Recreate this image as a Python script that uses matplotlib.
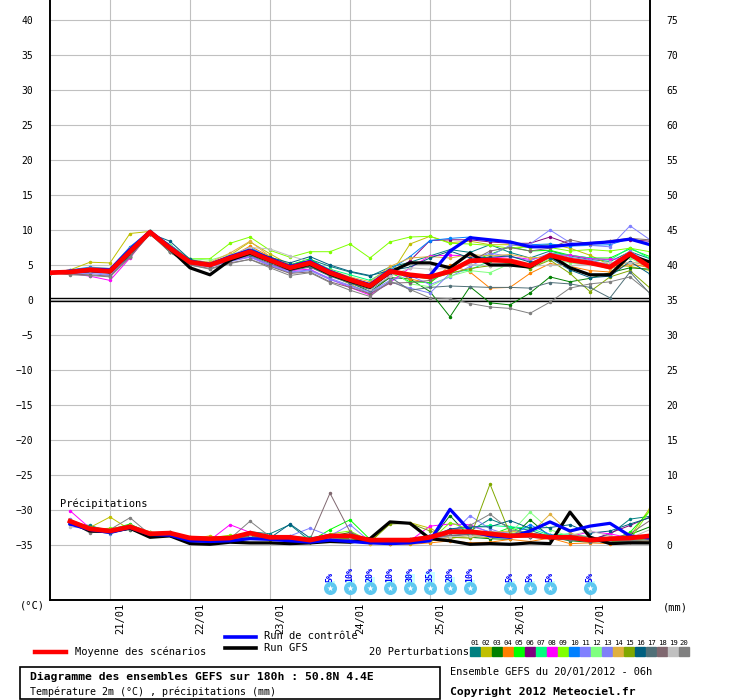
import numpy as np
import matplotlib
matplotlib.use('Agg')
import matplotlib.pyplot as plt
from matplotlib.lines import Line2D
from matplotlib.patches import Rectangle
from matplotlib.transforms import blended_transform_factory

plt.rcParams['font.family'] = ['DejaVu Sans Mono']

# echeances en heures depuis le 20/01/2012 06h
heures = np.arange(0, 181, 6)
heures_pluie = heures[1:]

jours = ['21/01', '22/01', '23/01', '24/01', '25/01', '26/01', '27/01']
jours_h = [18, 42, 66, 90, 114, 138, 162]

# temperature 2m (°C)
temp_moy = [3.9, 4.0, 4.3, 4.1, 6.9, 9.7, 7.4, 5.4, 5.0, 6.0, 6.9, 5.7, 4.6, 5.3, 3.9, 2.9,
            2.0, 4.1, 3.6, 3.3, 4.1, 5.6, 5.7, 5.6, 4.9, 6.4, 5.7, 5.3, 4.7, 6.6, 4.7]
temp_gfs = [3.9, 4.0, 4.2, 4.0, 6.8, 9.7, 7.3, 4.6, 3.6, 5.7, 6.7, 5.6, 4.4, 5.1, 3.7, 2.7,
            1.8, 4.0, 5.3, 5.3, 4.6, 6.7, 5.0, 5.0, 4.7, 6.4, 4.6, 3.6, 3.6, 6.4, 5.4]
temp_ctrl = [3.9, 4.1, 4.4, 4.3, 7.2, 9.8, 7.6, 5.5, 5.1, 6.2, 7.1, 5.9, 4.8, 5.5, 4.1, 3.0,
             2.2, 4.3, 3.4, 3.5, 7.0, 8.9, 8.6, 8.3, 7.6, 7.6, 7.9, 8.1, 8.3, 8.7, 7.9]

t01 = [3.9, 4.2, 4.6, 4.4, 7.5, 9.8, 7.9, 5.8, 5.3, 6.2, 7.2, 6.1, 5.0, 5.8, 4.8, 4.0, 3.4, 4.7, 5.4, 6.3, 7.2, 6.8, 7.9, 6.8, 6.0, 7.0, 6.3, 5.8, 5.5, 6.9, 5.9]
t02 = [3.9, 4.3, 5.4, 5.3, 9.5, 9.8, 7.2, 5.6, 5.2, 6.4, 8.3, 6.6, 5.0, 5.4, 3.6, 2.3, 0.8, 3.5, 8.0, 9.1, 8.2, 8.4, 7.9, 7.9, 7.5, 8.0, 7.4, 6.4, 5.0, 4.8, 4.2]
t03 = [3.9, 3.8, 4.0, 3.9, 6.2, 9.6, 6.8, 5.2, 5.0, 5.8, 6.4, 5.4, 4.3, 4.8, 3.5, 2.5, 1.2, 3.2, 3.0, 1.2, -2.4, 1.9, -0.4, -0.7, 1.0, 3.3, 2.6, 3.1, 3.9, 4.6, 4.4]
t04 = [3.9, 4.1, 4.5, 4.3, 7.2, 9.6, 7.6, 5.6, 5.2, 6.1, 7.7, 6.2, 4.8, 5.6, 4.2, 3.2, 2.3, 4.4, 3.0, 2.4, 5.0, 4.0, 1.7, 1.8, 3.8, 5.2, 4.8, 4.2, 4.0, 5.2, 4.6]
t05 = [3.9, 4.0, 4.4, 4.2, 7.0, 9.5, 7.5, 5.5, 5.1, 6.3, 7.2, 6.0, 5.0, 5.9, 4.1, 3.0, 2.3, 3.9, 2.6, 2.5, 4.5, 5.5, 6.5, 7.6, 7.0, 7.1, 6.4, 6.0, 6.0, 7.3, 6.2]
t06 = [3.9, 4.1, 4.3, 4.0, 6.8, 9.6, 7.2, 5.3, 5.0, 5.9, 6.6, 5.5, 4.5, 5.1, 3.8, 2.8, 1.9, 3.6, 5.6, 8.5, 8.6, 8.6, 8.3, 8.1, 8.1, 9.0, 8.0, 8.2, 8.4, 8.6, 8.4]
t07 = [3.9, 4.0, 4.2, 4.1, 7.1, 9.8, 7.6, 5.6, 5.1, 6.1, 7.0, 5.9, 4.8, 5.6, 4.4, 3.6, 2.8, 4.5, 3.5, 3.3, 3.9, 4.3, 5.6, 5.8, 4.6, 6.7, 6.4, 6.0, 5.7, 7.5, 5.9]
t08 = [3.9, 3.8, 3.4, 2.8, 6.0, 9.6, 7.2, 5.3, 4.8, 5.6, 6.2, 5.0, 4.2, 4.4, 3.0, 1.8, 0.7, 2.5, 4.6, 6.3, 6.4, 6.3, 6.0, 6.2, 5.8, 6.4, 6.4, 5.9, 5.8, 6.0, 5.6]
t09 = [3.9, 4.1, 4.4, 4.3, 7.2, 9.5, 7.6, 5.9, 5.9, 8.1, 9.0, 7.1, 6.1, 6.9, 6.9, 8.0, 6.0, 8.3, 9.0, 9.1, 8.1, 8.0, 7.8, 7.4, 7.6, 7.5, 7.0, 7.2, 7.0, 7.4, 6.9]
t10 = [3.9, 4.3, 4.7, 4.5, 7.6, 9.9, 7.7, 5.6, 5.2, 6.2, 7.5, 6.0, 4.9, 5.7, 4.2, 3.1, 2.2, 4.3, 6.2, 8.5, 8.8, 9.0, 8.6, 8.2, 7.9, 8.0, 7.7, 7.8, 7.9, 8.8, 7.9]
t11 = [3.9, 3.9, 4.0, 3.6, 6.5, 9.6, 7.0, 5.1, 4.7, 5.6, 6.3, 5.0, 4.0, 4.3, 3.1, 2.1, 1.2, 2.8, 3.5, 2.2, 3.3, 4.8, 6.3, 7.8, 8.0, 10.0, 8.2, 7.8, 7.6, 10.6, 8.6]
t12 = [3.9, 4.0, 4.2, 4.0, 6.6, 9.4, 7.8, 5.9, 5.7, 6.5, 7.1, 5.8, 4.7, 5.4, 4.0, 3.0, 2.2, 4.6, 2.3, 1.9, 3.4, 4.2, 3.9, 5.2, 4.5, 5.9, 5.3, 5.1, 4.7, 6.0, 4.5]
t13 = [3.9, 3.8, 3.8, 3.5, 6.4, 9.5, 7.0, 5.2, 4.8, 5.5, 6.1, 4.9, 3.9, 4.2, 2.9, 2.0, 1.0, 2.6, 1.7, 1.0, 3.8, 5.7, 6.7, 6.2, 5.6, 6.7, 6.1, 5.7, 5.0, 7.0, 5.2]
t14 = [3.9, 4.2, 4.6, 4.5, 7.4, 9.7, 7.5, 5.7, 5.4, 6.7, 8.4, 6.2, 5.0, 5.5, 4.3, 3.3, 2.6, 4.8, 6.0, 6.2, 6.0, 6.5, 6.3, 6.5, 6.0, 6.2, 5.6, 5.2, 4.4, 5.5, 4.8]
t15 = [3.9, 4.1, 4.4, 4.2, 7.0, 9.7, 7.3, 5.5, 5.1, 6.1, 7.0, 5.8, 4.7, 5.3, 4.0, 2.9, 2.1, 4.0, 3.4, 3.0, 3.8, 4.5, 4.9, 5.2, 4.5, 5.7, 3.8, 1.2, 3.3, 4.2, 1.7]
t16 = [3.9, 4.0, 4.3, 4.1, 6.3, 9.5, 8.4, 5.8, 5.0, 6.2, 7.3, 6.1, 5.3, 6.2, 5.0, 4.1, 3.5, 4.2, 4.7, 6.0, 7.0, 6.0, 6.1, 6.3, 5.4, 6.0, 4.3, 3.2, 3.4, 5.5, 3.7]
t17 = [3.9, 3.9, 4.1, 3.9, 6.6, 9.6, 7.1, 5.3, 4.9, 5.7, 6.4, 5.2, 4.2, 4.7, 3.4, 2.4, 1.5, 3.3, 1.4, 1.8, 2.0, 1.9, 1.8, 1.8, 1.7, 2.5, 2.3, 1.8, 0.3, 4.0, 0.9]
t18 = [3.9, 3.7, 3.6, 3.4, 6.2, 9.4, 6.9, 5.0, 4.5, 5.3, 5.8, 4.8, 3.8, 4.0, 2.6, 1.8, 0.9, 2.4, 2.5, 2.8, 4.2, 5.5, 7.0, 7.5, 7.0, 7.4, 8.6, 8.0, 8.5, 8.8, 8.6]
t19 = [3.9, 3.9, 4.1, 4.0, 6.8, 9.7, 7.3, 5.5, 5.2, 6.4, 7.5, 7.3, 6.3, 5.5, 4.0, 2.8, 1.6, 3.4, 4.6, 4.4, 4.5, 5.1, 4.9, 4.8, 4.8, 5.0, 4.9, 5.2, 5.4, 5.3, 5.4]
t20 = [3.9, 3.6, 3.5, 3.3, 6.1, 9.5, 6.8, 5.0, 4.4, 5.2, 5.8, 4.6, 3.5, 3.9, 2.5, 1.4, 0.5, 2.7, 1.5, 0.3, 0.2, -0.5, -1.0, -1.2, -1.9, -0.3, 1.7, 2.3, 2.6, 3.3, 1.0]

# precipitations (mm / 6h)
pluie_moy = [3.4, 2.3, 2.0, 2.6, 1.6, 1.7, 1.0, 0.9, 1.0, 1.7, 1.1, 1.1, 0.7, 1.3, 1.3,
             0.7, 0.7, 0.7, 1.1, 1.9, 1.9, 1.6, 1.3, 1.4, 1.1, 1.1, 0.7, 0.9, 1.0, 1.3]
pluie_gfs = [3.3, 2.0, 1.9, 2.4, 1.1, 1.3, 0.2, 0.1, 0.4, 0.3, 0.3, 0.2, 0.3, 0.5, 0.4,
             0.9, 3.3, 3.1, 0.9, 0.6, 0.1, 0.2, 0.1, 0.3, 0.2, 4.7, 1.1, 0.2, 0.3, 0.3]
pluie_ctrl = [3.0, 2.2, 1.8, 2.5, 1.5, 1.4, 0.6, 0.5, 0.6, 0.9, 0.8, 0.6, 0.4, 0.7, 0.5,
              0.3, 0.2, 0.3, 0.6, 5.1, 2.0, 1.3, 1.1, 2.0, 3.3, 2.0, 2.7, 3.1, 1.3, 1.0]

p01 = [3.0, 2.8, 1.9, 2.9, 1.8, 1.6, 0.8, 0.7, 0.9, 1.9, 1.6, 2.9, 0.6, 1.0, 0.9, 0.4, 0.5, 0.6, 1.4, 1.8, 2.0, 3.7, 2.6, 2.1, 1.2, 0.9, 0.8, 1.5, 3.7, 4.1]
p02 = [3.6, 2.5, 4.0, 2.2, 1.4, 1.5, 0.9, 1.3, 0.8, 1.2, 0.7, 0.9, 0.5, 0.8, 0.6, 0.4, 3.2, 3.2, 2.4, 0.9, 1.4, 1.0, 1.6, 1.8, 1.0, 0.8, 0.6, 0.5, 1.2, 5.3]
p03 = [3.2, 2.1, 1.8, 2.4, 1.5, 1.6, 0.8, 0.6, 0.8, 1.5, 0.9, 1.0, 0.6, 1.2, 1.8, 0.3, 0.2, 0.3, 0.5, 4.2, 1.1, 0.9, 0.8, 3.6, 1.2, 0.6, 0.4, 0.6, 1.5, 2.6]
p04 = [3.5, 2.3, 2.1, 2.6, 1.7, 1.8, 1.0, 0.8, 1.1, 1.4, 1.0, 0.9, 0.4, 0.9, 0.8, 0.2, 0.2, 0.1, 0.3, 0.6, 0.3, 0.4, 0.8, 0.5, 1.0, 0.2, 0.3, 0.2, 0.4, 0.6]
p05 = [3.3, 2.2, 2.2, 3.0, 1.6, 1.5, 0.9, 0.8, 1.0, 1.5, 1.2, 1.0, 0.5, 2.2, 3.6, 0.8, 0.5, 0.5, 0.8, 1.9, 1.6, 1.4, 2.5, 1.5, 1.4, 0.9, 0.7, 0.6, 1.8, 4.9]
p06 = [3.1, 2.6, 2.0, 2.7, 1.6, 1.7, 1.1, 0.9, 0.9, 1.6, 1.0, 1.2, 0.6, 1.4, 1.5, 0.4, 0.3, 0.4, 0.9, 1.2, 1.6, 1.9, 1.4, 1.2, 1.1, 0.9, 0.6, 1.7, 2.8, 4.0]
p07 = [3.4, 2.0, 1.9, 2.3, 1.4, 1.5, 0.9, 1.0, 1.2, 1.3, 1.1, 1.2, 1.1, 1.0, 1.3, 0.5, 0.6, 0.8, 1.2, 2.1, 2.5, 2.8, 2.6, 2.4, 1.4, 1.6, 1.1, 0.8, 0.9, 1.2]
p08 = [4.9, 2.4, 2.3, 2.8, 1.7, 1.6, 0.9, 0.7, 2.9, 1.8, 1.1, 1.0, 0.6, 1.1, 1.4, 0.7, 0.6, 0.6, 2.7, 3.0, 2.9, 1.8, 1.5, 1.2, 1.1, 1.2, 1.9, 1.6, 1.0, 1.2]
p09 = [3.6, 2.2, 2.4, 2.6, 1.8, 1.6, 1.2, 1.0, 1.4, 1.3, 1.0, 1.1, 0.5, 1.6, 2.0, 0.6, 0.4, 0.3, 0.6, 3.2, 2.2, 1.7, 1.9, 1.7, 0.9, 0.8, 0.7, 0.4, 0.7, 5.0]
p10 = [3.2, 2.4, 2.1, 2.5, 1.6, 1.8, 1.0, 0.8, 0.9, 1.7, 1.2, 1.3, 0.9, 1.2, 1.0, 0.5, 0.4, 0.7, 1.3, 1.9, 2.0, 1.4, 1.2, 2.9, 1.5, 1.0, 0.8, 0.6, 0.7, 0.8]
p11 = [3.0, 2.1, 1.6, 2.3, 1.5, 1.6, 0.9, 0.8, 1.0, 1.5, 1.3, 1.3, 2.4, 1.3, 2.9, 0.5, 0.4, 0.5, 0.9, 1.3, 4.2, 2.3, 1.4, 1.2, 1.3, 0.9, 0.6, 0.5, 0.6, 0.9]
p12 = [3.4, 2.3, 2.0, 2.6, 1.5, 1.6, 0.9, 0.8, 1.0, 1.6, 1.1, 1.0, 0.8, 1.3, 1.1, 0.6, 0.5, 0.6, 1.1, 2.0, 1.8, 1.5, 1.6, 4.7, 2.2, 1.2, 0.9, 0.8, 0.7, 0.9]
p13 = [3.7, 2.0, 2.2, 2.4, 1.6, 1.5, 0.8, 0.7, 0.9, 1.4, 1.0, 1.1, 0.7, 1.2, 1.2, 0.7, 0.6, 0.9, 1.4, 2.2, 2.7, 1.9, 1.7, 1.3, 1.2, 1.0, 0.8, 0.6, 0.7, 1.0]
p14 = [3.1, 2.5, 1.9, 2.8, 1.9, 1.4, 0.7, 0.6, 0.8, 1.1, 0.9, 0.8, 0.4, 0.7, 0.6, 0.2, 0.3, 0.4, 0.6, 1.1, 1.0, 1.8, 2.0, 1.6, 4.4, 1.7, 0.9, 0.5, 0.6, 0.8]
p15 = [3.5, 2.6, 2.2, 2.7, 1.6, 1.8, 1.0, 0.9, 1.1, 1.5, 1.1, 1.0, 0.5, 1.0, 0.9, 0.4, 3.0, 3.1, 2.0, 1.1, 1.0, 8.7, 1.6, 1.2, 1.1, 0.8, 0.7, 0.5, 0.6, 0.9]
p16 = [3.3, 2.3, 1.7, 2.5, 1.5, 1.6, 1.0, 0.8, 1.0, 1.4, 1.0, 3.0, 1.0, 1.5, 1.4, 0.6, 0.5, 0.6, 1.0, 2.3, 2.6, 2.6, 3.5, 2.4, 2.5, 2.9, 1.7, 2.0, 3.0, 3.9]
p17 = [3.0, 2.1, 2.0, 2.2, 1.4, 1.5, 0.8, 0.7, 0.9, 1.2, 0.9, 0.8, 0.5, 0.9, 0.8, 0.4, 0.4, 0.5, 0.8, 1.3, 1.5, 1.3, 1.2, 1.1, 0.9, 0.7, 0.5, 0.4, 0.5, 0.6]
p18 = [3.2, 2.2, 2.1, 2.6, 1.6, 1.7, 1.0, 0.9, 1.1, 1.6, 1.3, 1.1, 0.8, 7.4, 1.9, 0.5, 0.4, 0.6, 1.0, 1.4, 1.6, 1.6, 1.5, 1.3, 1.1, 0.9, 0.8, 0.9, 1.6, 3.5]
p19 = [2.6, 2.3, 1.9, 2.5, 1.5, 1.6, 0.9, 0.8, 1.0, 1.5, 1.0, 1.0, 0.6, 1.0, 1.1, 0.4, 0.3, 0.5, 0.8, 1.2, 1.3, 1.2, 1.1, 1.3, 1.2, 1.4, 2.0, 1.3, 1.0, 2.2]
p20 = [3.4, 1.7, 2.2, 3.9, 1.5, 1.6, 0.8, 0.7, 0.9, 3.4, 1.2, 1.1, 0.6, 1.2, 1.3, 0.5, 0.4, 0.6, 1.1, 1.9, 2.8, 4.4, 2.2, 1.7, 1.3, 1.4, 1.2, 0.7, 0.6, 0.8]

temp_pert = [t01, t02, t03, t04, t05, t06, t07, t08, t09, t10,
             t11, t12, t13, t14, t15, t16, t17, t18, t19, t20]
pluie_pert = [p01, p02, p03, p04, p05, p06, p07, p08, p09, p10,
              p11, p12, p13, p14, p15, p16, p17, p18, p19, p20]

couleurs = ['#008080', '#c0c000', '#008000', '#ff8000', '#00ff00', '#800080', '#00ff80',
            '#ff00ff', '#80ff00', '#0080ff', '#8080ff', '#80ff80', '#8080f8', '#e0b040',
            '#80a800', '#006080', '#507078', '#806870', '#c0c0c0', '#808080']

# probabilite de neige
neige_h = [84, 90, 96, 102, 108, 114, 120, 126, 138, 144, 150, 162]
neige_pct = [5, 10, 20, 10, 30, 35, 20, 10, 5, 5, 5, 5]

W, H = 740, 700
fig = plt.figure(figsize=(W / 100, H / 100), dpi=100)
ax = fig.add_axes([50 / W, 100 / H, 600 / W, 600 / H])
ax.set_xlim(0, 180)
ax.set_ylim(-300 / 7, 300 / 7)
ax.set_yticks(range(-35, 41, 5))
ax.set_xticks(jours_h)
ax.set_xticklabels([])
ax.tick_params(length=0, labelsize=7, pad=12)
ax.grid(True, color='#c0c0c0', lw=0.8)
ax.set_axisbelow(True)
ax.spines['top'].set_visible(False)
ax.spines['right'].set_visible(False)
for s in ['left', 'bottom']:
    ax.spines[s].set_linewidth(1.4)

# ligne du 0°C
ax.axhline(0.22, color='k', lw=1, zorder=3)
ax.axhline(-0.18, color='k', lw=1, zorder=3)

for t, c in zip(temp_pert, couleurs):
    ax.plot(heures, t, color=c, lw=0.7, marker='o', ms=1.5, zorder=4)
ax.plot(heures, temp_gfs, color='black', lw=2.3, zorder=5)
ax.plot(heures, temp_ctrl, color='#0000ff', lw=2.3, zorder=6)
ax.plot(heures, temp_moy, color='#ff0000', lw=3.4, zorder=7)

# axe des precipitations
ax2 = ax.twinx()
ax2.set_ylim(-300 / 7 + 35, 300 / 7 + 35)
ax2.set_yticks(range(0, 76, 5))
ax2.tick_params(length=0, labelsize=7, pad=12)
for s in ['top', 'left', 'bottom']:
    ax2.spines[s].set_visible(False)
ax2.spines['right'].set_linewidth(1.4)

for p, c in zip(pluie_pert, couleurs):
    ax2.plot(heures_pluie, p, color=c, lw=0.7, marker='o', ms=1.5)
ax2.plot(heures_pluie, pluie_gfs, color='black', lw=2.3)
ax2.plot(heures_pluie, pluie_ctrl, color='#0000ff', lw=2.3)
ax2.plot(heures_pluie, pluie_moy, color='#ff0000', lw=3.4)

ax.text(3, -29.1, 'Précipitations', fontsize=7.5, va='center', ha='left')

# neige
ax.bar(neige_h, [p * 0.045 for p in neige_pct], bottom=-40.43, width=3,
       color='#ccffff', zorder=2)
for h, p in zip(neige_h, neige_pct):
    ax.text(h, -40.3, f'{p}%', rotation=90, color='#0000ff', fontsize=6,
            fontweight='bold', ha='center', va='bottom', zorder=3)
ax.scatter(neige_h, [-41.15] * len(neige_h), s=70, color='#5ec8f0', zorder=3)
ax.scatter(neige_h, [-41.15] * len(neige_h), s=22, marker='*', color='white',
           lw=0, zorder=4)

# dates
trans = blended_transform_factory(ax.transData, ax.transAxes)
for h, j in zip(jours_h, jours):
    ax.text(h + 3, -0.004, j, rotation=90, fontsize=7.5, ha='center', va='top',
            transform=trans)

def fx(px):
    return px / W

def fy(py):
    return 1 - py / H

fig.text(fx(20), fy(606), '(°C)', fontsize=7.5, va='center')
fig.text(fx(663), fy(607), '(mm)', fontsize=7.5, va='center')

# legende
fig.add_artist(Line2D([fx(35), fx(66)], [fy(652), fy(652)], color='#ff0000', lw=3.2))
fig.text(fx(75), fy(652), 'Moyenne des scénarios', fontsize=7.5, va='center')
fig.add_artist(Line2D([fx(225), fx(256)], [fy(637), fy(637)], color='#0000ff', lw=2.6))
fig.text(fx(264), fy(636), 'Run de contrôle', fontsize=7.5, va='center')
fig.add_artist(Line2D([fx(225), fx(256)], [fy(648), fy(648)], color='black', lw=2.6))
fig.text(fx(264), fy(648), 'Run GFS', fontsize=7.5, va='center')
fig.text(fx(369), fy(652), '20 Perturbations', fontsize=7.5, va='center')
for k, c in enumerate(couleurs):
    x0 = 470 + k * 11
    fig.add_artist(Rectangle((fx(x0), fy(656)), 10 / W, 9 / H, color=c,
                             transform=fig.transFigure))
    fig.text(fx(x0 + 5), fy(643), f'{k + 1:02d}', fontsize=5.2, ha='center',
             va='center')

fig.add_artist(Rectangle((fx(20), fy(699)), 420 / W, 32 / H, fill=False,
                         edgecolor='black', lw=1.2, transform=fig.transFigure))
fig.text(fx(30), fy(677), 'Diagramme des ensembles GEFS sur 180h : 50.8N 4.4E',
         fontsize=8.2, fontweight='bold', va='center')
fig.text(fx(30), fy(692), 'Température 2m (°C) , précipitations (mm)',
         fontsize=7.2, va='center')
fig.text(fx(450), fy(672), 'Ensemble GEFS du 20/01/2012 - 06h', fontsize=7.4,
         va='center')
fig.text(fx(450), fy(692), 'Copyright 2012 Meteociel.fr', fontsize=8.2,
         fontweight='bold', va='center')

fig.savefig('out.png', dpi=100)
